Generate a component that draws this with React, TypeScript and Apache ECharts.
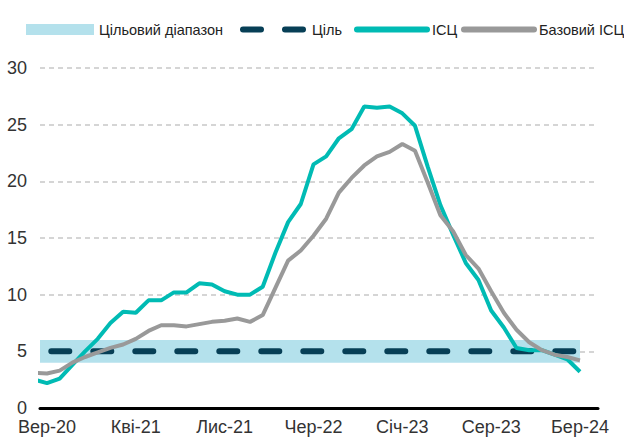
import React, { useEffect, useRef } from "react";
import * as echarts from "echarts";

// Monthly, Aug-2020 .. Mar-2024
const MONTHS = [
  "Сер-20", "Вер-20", "Жов-20", "Лис-20", "Гру-20",
  "Січ-21", "Лют-21", "Бер-21", "Кві-21", "Тра-21", "Чер-21", "Лип-21", "Сер-21", "Вер-21", "Жов-21", "Лис-21", "Гру-21",
  "Січ-22", "Лют-22", "Бер-22", "Кві-22", "Тра-22", "Чер-22", "Лип-22", "Сер-22", "Вер-22", "Жов-22", "Лис-22", "Гру-22",
  "Січ-23", "Лют-23", "Бер-23", "Кві-23", "Тра-23", "Чер-23", "Лип-23", "Сер-23", "Вер-23", "Жов-23", "Лис-23", "Гру-23",
  "Січ-24", "Лют-24", "Бер-24",
];

const CPI = [
  2.5, 2.2, 2.6, 3.8, 5.0,
  6.1, 7.5, 8.5, 8.4, 9.5, 9.5, 10.2, 10.2, 11.0, 10.9, 10.3, 10.0,
  10.0, 10.7, 13.7, 16.4, 18.0, 21.5, 22.2, 23.8, 24.6, 26.6, 26.5, 26.6,
  26.0, 24.9, 21.3, 17.9, 15.3, 12.8, 11.3, 8.6, 7.1, 5.3, 5.1, 5.1,
  4.7, 4.3, 3.2,
];

const CORE_CPI = [
  3.1, 3.05, 3.3, 4.0, 4.5,
  4.9, 5.3, 5.6, 6.1, 6.8, 7.3, 7.3, 7.2, 7.4, 7.6, 7.7, 7.9,
  7.6, 8.2, 10.6, 13.0, 13.9, 15.2, 16.7, 19.0, 20.3, 21.4, 22.2, 22.6,
  23.3, 22.7, 19.9, 17.0, 15.6, 13.5, 12.3, 10.3, 8.4, 6.9, 5.8, 5.1,
  4.7, 4.5, 4.2,
];

const TARGET = 5;
const TARGET_LOW = 4;
const TARGET_HIGH = 6;

const TICK_LABELS = ["Вер-20", "Кві-21", "Лис-21", "Чер-22", "Січ-23", "Сер-23", "Бер-24"];

const LEGEND_NAMES = ["Цільовий діапазон", "Ціль", "ІСЦ", "Базовий ІСЦ"];

const TEAL = "#00bbb4";
const GRAY = "#999999";
const NAVY = "#073f56";
const BAND = "#b4e1ec";
const FONT = "'Liberation Sans', Arial, sans-serif";

export default function App() {
  const ref = useRef<HTMLDivElement>(null);

  useEffect(() => {
    if (!ref.current) return;
    const chart = echarts.init(ref.current, null, { renderer: "svg" });
    const last = MONTHS.length - 1;
    const tickValues = TICK_LABELS.map((l) => MONTHS.indexOf(l));
    const hidden = { opacity: 0, borderWidth: 0 };

    const legendBase = {
      top: 22,
      padding: 0,
      itemHeight: 11,
      itemGap: 0,
      textStyle: { fontSize: 14.5, color: "#222", fontFamily: FONT },
      lineStyle: { width: 6, cap: "round" },
    };
    const legendLefts = [26, 236, 354, 461];
    const legendWidths = [68, 68, 70, 70];
    const legendItems: any[] = [
      { name: LEGEND_NAMES[0], icon: "rect" },
      { name: LEGEND_NAMES[1], itemStyle: hidden, lineStyle: { dashOffset: 38 } },
      { name: LEGEND_NAMES[2], itemStyle: hidden },
      { name: LEGEND_NAMES[3], itemStyle: hidden },
    ];

    const option: any = {
      animation: false,
      textStyle: { fontFamily: FONT },
      grid: { left: 40, right: 26, top: 68, bottom: 29, containLabel: false },
      legend: legendItems.map((item, i) => ({
        ...legendBase,
        left: legendLefts[i],
        itemWidth: legendWidths[i],
        data: [item],
      })),
      xAxis: {
        type: "value",
        min: 0.45,
        max: last + 1.42,
        axisLine: { show: true, onZero: false, lineStyle: { color: "#000", width: 3 } },
        axisTick: { show: false },
        splitLine: { show: false },
        axisLabel: {
          customValues: tickValues,
          formatter: (v: number) => MONTHS[Math.round(v)] ?? "",
          fontSize: 18,
          color: "#333",
          fontFamily: FONT,
          margin: 10,
        },
      },
      yAxis: {
        type: "value",
        min: 0,
        max: 30,
        interval: 5,
        axisLine: { show: false },
        axisTick: { show: false },
        axisLabel: { fontSize: 18, color: "#333", fontFamily: FONT, margin: 13 },
        splitLine: { show: true, lineStyle: { color: "#c8c8c8", width: 1.5, type: [5, 4] } },
      },
      series: [
        {
          name: LEGEND_NAMES[0],
          type: "line",
          symbol: "none",
          silent: true,
          color: BAND,
          itemStyle: { color: BAND },
          lineStyle: { opacity: 0, width: 0 },
          data: [[0, TARGET_HIGH], [last, TARGET_HIGH]],
          markArea: {
            silent: true,
            itemStyle: { color: BAND, opacity: 1 },
            data: [[{ xAxis: 0, yAxis: TARGET_LOW }, { xAxis: last, yAxis: TARGET_HIGH }]],
          },
        },
        {
          name: LEGEND_NAMES[1],
          type: "line",
          symbol: "none",
          color: NAVY,
          lineStyle: { color: NAVY, width: 6, type: [18, 24], dashOffset: 25.3, cap: "round" },
          data: [[0, TARGET], [last, TARGET]],
        },
        {
          name: LEGEND_NAMES[2],
          type: "line",
          symbol: "none",
          color: TEAL,
          lineStyle: { color: TEAL, width: 4 },
          data: CPI.map((v, i) => [i, v]),
        },
        {
          name: LEGEND_NAMES[3],
          type: "line",
          symbol: "none",
          color: GRAY,
          lineStyle: { color: GRAY, width: 4 },
          data: CORE_CPI.map((v, i) => [i, v]),
        },
      ],
    };

    chart.setOption(option);
    return () => chart.dispose();
  }, []);

  return (
    <div
      ref={ref}
      style={{ position: "absolute", left: 0, top: 0, width: 624, height: 437 }}
    />
  );
}
